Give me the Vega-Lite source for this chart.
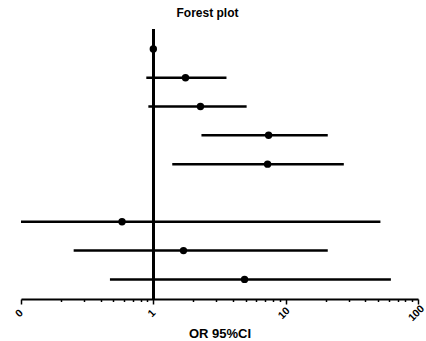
{
  "$schema": "https://vega.github.io/schema/vega-lite/v6.json",
  "width": 397,
  "height": 270,
  "autosize": "none",
  "padding": {"left": 21, "top": 29, "right": 8, "bottom": 42},
  "background": "white",
  "config": {
    "view": {"stroke": null},
    "font": "Liberation Sans"
  },
  "title": {
    "text": "Forest plot",
    "fontSize": 12,
    "fontWeight": "bold",
    "font": "Liberation Sans",
    "color": "black",
    "offset": 8,
    "dx": -12
  },
  "data": {
    "values": [
      {"row": 0, "or": 1.0, "lo": 1.0, "hi": 1.0},
      {"row": 1, "or": 1.75, "lo": 0.885, "hi": 3.57},
      {"row": 2, "or": 2.27, "lo": 0.917, "hi": 5.07},
      {"row": 3, "or": 7.43, "lo": 2.31, "hi": 20.8},
      {"row": 4, "or": 7.3, "lo": 1.39, "hi": 27.5},
      {"row": 6, "or": 0.58, "lo": 0.1, "hi": 52},
      {"row": 7, "or": 1.69, "lo": 0.25, "hi": 20.8},
      {"row": 8, "or": 4.89, "lo": 0.47, "hi": 62.4}
    ]
  },
  "layer": [
    {
      "mark": {"type": "rule", "color": "black", "strokeWidth": 2.5},
      "encoding": {
        "x": {
          "field": "lo",
          "type": "quantitative",
          "scale": {"type": "log", "domain": [0.1, 100], "nice": false},
          "axis": {
            "values": [0.1, 0.2, 0.3, 0.4, 0.5, 0.6, 0.7, 0.8, 0.9, 1, 2, 3, 4, 5, 6, 7, 8, 9, 10, 20, 30, 40, 50, 60, 70, 80, 90, 100],
            "labelExpr": "datum.value == 0.1 ? '0' : (datum.value == 1 ? '1' : (datum.value == 10 ? '10' : (datum.value == 100 ? '100' : '')))",
            "title": "OR 95%CI",
            "titleFont": "Liberation Sans",
            "titleFontSize": 13,
            "titleFontWeight": "bold",
            "titleColor": "black",
            "titleBaseline": "middle",
            "titleY": 34,
            "labelFont": "Liberation Sans",
            "labelFontSize": 10.5,
            "labelFontWeight": "bold",
            "labelColor": "black",
            "labelAngle": -45,
            "labelAlign": "center",
            "labelBaseline": "middle",
            "labelPadding": 9,
            "labelOffset": -2,
            "labelOverlap": false,
            "labelFlush": false,
            "domainColor": "black",
            "domainWidth": 2,
            "tickColor": "black",
            "tickWidth": 1.5,
            "tickSize": {"condition": {"test": "datum.value == 0.1 || datum.value == 1 || datum.value == 10 || datum.value == 100", "value": 5}, "value": 2.5},
            "grid": false
          }
        },
        "x2": {"field": "hi"},
        "y": {
          "field": "row",
          "type": "quantitative",
          "scale": {"domain": [-0.69, 8.68], "reverse": true, "nice": false, "zero": false},
          "axis": null
        }
      }
    },
    {
      "mark": {"type": "rule", "color": "black", "strokeWidth": 2.5},
      "encoding": {
        "x": {"datum": 1, "type": "quantitative"}
      }
    },
    {
      "mark": {"type": "point", "shape": "circle", "filled": true, "color": "black", "opacity": 1, "size": 55},
      "encoding": {
        "x": {"field": "or", "type": "quantitative"},
        "y": {"field": "row", "type": "quantitative"}
      }
    }
  ]
}
